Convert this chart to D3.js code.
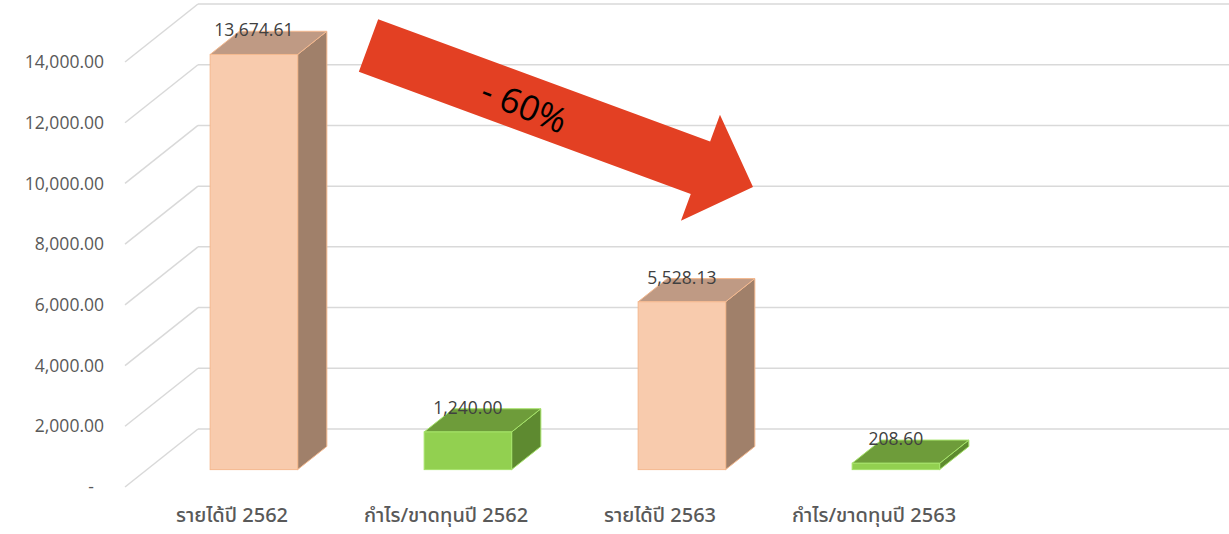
<!DOCTYPE html>
<html>
<head>
<meta charset="utf-8">
<script src="https://cdn.jsdelivr.net/npm/d3@7/dist/d3.min.js"></script>
<style>
  html, body { margin: 0; padding: 0; background: #fff; }
  svg { display: block; }
</style>
</head>
<body>
<svg id="chart" width="1229" height="534"></svg>
<script>
// Revenue and profit, years 2562 and 2563
const categories = ["รายได้ปี 2562", "กำไร/ขาดทุนปี 2562", "รายได้ปี 2563", "กำไร/ขาดทุนปี 2563"];
const values = [13674.61, 1240.00, 5528.13, 208.60];
const kinds = ["revenue", "profit", "revenue", "profit"];
const yTicks = [0, 2000, 4000, 6000, 8000, 10000, 12000, 14000];
const changeLabel = "- 60%";

const W = 1229, H = 534;
const svg = d3.select("#chart");

// front plane of the 3D box and its depth vector
const front = { left: 125, bottom: 487, top: 62 };
const depth = { dx: 73, dy: -58 };
const step = 214;
const barFrac = 87.5 / step;
const z0 = 0.3, z1 = 0.7; // bar depth span inside the box

const x = d3.scaleBand().domain(categories).range([front.left, front.left + step * categories.length]).padding(0);
const y = d3.scaleLinear().domain([0, 14000]).range([front.bottom, front.top]);

const palette = {
  revenue: { front: "#F8CBAD", top: "#BF9A84", side: "#A0806A", edge: "#F4B98F" },
  profit:  { front: "#92D050", top: "#6E9C3A", side: "#5E8A30", edge: "#A6E36A" }
};

// back wall and side wall gridlines
const grid = svg.append("g");
yTicks.forEach(t => {
  const yf = y(t);
  grid.append("line")
    .attr("x1", front.left).attr("y1", yf)
    .attr("x2", front.left + depth.dx).attr("y2", yf + depth.dy)
    .attr("stroke", "#D9D9D9").attr("stroke-width", 1.5);
  grid.append("line")
    .attr("x1", front.left + depth.dx).attr("y1", yf + depth.dy)
    .attr("x2", W).attr("y2", yf + depth.dy)
    .attr("stroke", "#D9D9D9").attr("stroke-width", 1.5);
});

// value axis labels
const fmt = d3.format(",.2f");
const labelFont = "Open Sans, Noto Sans, sans-serif";
svg.append("g").selectAll("text").data(yTicks).join("text")
  .attr("x", d => d === 0 ? 94 : 104)
  .attr("y", d => y(d))
  .attr("dy", "0.35em")
  .attr("text-anchor", "end")
  .attr("font-family", labelFont)
  .attr("font-size", 17.5)
  .attr("fill", "#595959")
  .text(d => d === 0 ? "-" : fmt(d));

// 3D bars
const bars = svg.append("g");
const fx = z0 * depth.dx, fy = z0 * depth.dy;
const bdx = (z1 - z0) * depth.dx, bdy = (z1 - z0) * depth.dy;
categories.forEach((c, i) => {
  const col = palette[kinds[i]];
  const bw = x.bandwidth() * barFrac;
  const x0 = x(c) + (x.bandwidth() - bw) / 2 + fx;
  const x1 = x0 + bw;
  const yb = y(0) + fy;
  const yt = y(values[i]) + fy;
  const g = bars.append("g");
  // side face
  g.append("path")
    .attr("d", `M${x1},${yb} L${x1 + bdx},${yb + bdy} L${x1 + bdx},${yt + bdy} L${x1},${yt} Z`)
    .attr("fill", col.side).attr("stroke", col.edge).attr("stroke-width", 1).attr("stroke-linejoin", "round");
  // top face
  g.append("path")
    .attr("d", `M${x0},${yt} L${x1},${yt} L${x1 + bdx},${yt + bdy} L${x0 + bdx},${yt + bdy} Z`)
    .attr("fill", col.top).attr("stroke", col.edge).attr("stroke-width", 1).attr("stroke-linejoin", "round");
  // front face
  g.append("rect")
    .attr("x", x0).attr("y", yt).attr("width", bw).attr("height", yb - yt)
    .attr("fill", col.front).attr("stroke", col.edge).attr("stroke-width", 1);
  // value label at the top of the bar
  g.append("text")
    .attr("x", (x0 + x1) / 2)
    .attr("y", yt + bdy - 1)
    .attr("dy", "0.35em")
    .attr("text-anchor", "middle")
    .attr("font-family", labelFont)
    .attr("font-size", 17.5)
    .attr("fill", "#404040")
    .text(fmt(values[i]));
});

// category labels
svg.append("g").selectAll("text").data(categories).join("text")
  .attr("x", d => x(d) + x.bandwidth() / 2)
  .attr("y", 515)
  .attr("dy", "0.35em")
  .attr("text-anchor", "middle")
  .attr("font-family", "Noto Sans Thai, Noto Sans, Open Sans, sans-serif")
  .attr("font-size", 20)
  .attr("font-weight", 500)
  .attr("fill", "#595959")
  .text(d => d);

// downward trend arrow between the two revenue bars
const arrow = { from: [368.5, 45.5], to: [753, 187], shaft: 28, head: 56.5, headLen: 56 };
const ang = Math.atan2(arrow.to[1] - arrow.from[1], arrow.to[0] - arrow.from[0]);
const len = Math.hypot(arrow.to[0] - arrow.from[0], arrow.to[1] - arrow.from[1]);
const L = len - arrow.headLen;
const pts = [
  [0, -arrow.shaft], [L, -arrow.shaft], [L, -arrow.head], [len, 0],
  [L, arrow.head], [L, arrow.shaft], [0, arrow.shaft]
];
const ag = svg.append("g")
  .attr("transform", `translate(${arrow.from[0]},${arrow.from[1]}) rotate(${ang * 180 / Math.PI})`);
ag.append("path")
  .attr("d", d3.line()(pts) + "Z")
  .attr("fill", "#E34023");
ag.append("text")
  .attr("x", 167).attr("y", 3)
  .attr("dy", "0.35em")
  .attr("text-anchor", "middle")
  .attr("font-family", labelFont)
  .attr("font-size", 35)
  .attr("fill", "#000")
  .attr("transform", "rotate(2,167,3)")
  .text(changeLabel);
</script>
</body>
</html>
